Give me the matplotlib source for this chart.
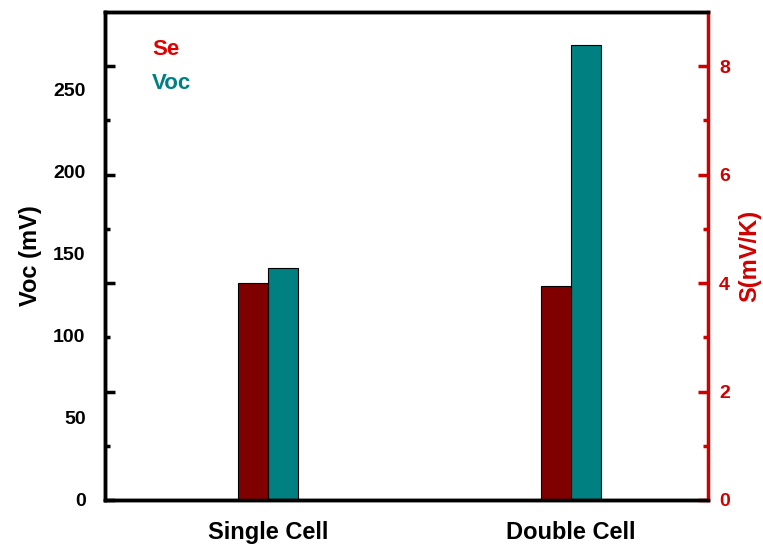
import matplotlib.pyplot as plt
import numpy as np

plt.rcParams['font.family'] = ['Liberation Sans', 'DejaVu Sans']
plt.rcParams['font.weight'] = 'bold'
plt.rcParams['axes.labelweight'] = 'bold'

# Data
cells = ['Single Cell', 'Double Cell']
seebeck = [4.01, 3.95]      # S (mV/K), right axis
voc = [141, 277]            # Voc (mV), left axis
voc_labels = [0, 50, 100, 150, 200, 250]

c_se = '#800000'
c_voc = '#008080'
c_red = '#d00000'

x = np.arange(1, len(cells) + 1)
w = 0.1
voc_max = 297
s_max = 9

fig = plt.figure(figsize=(7.63, 5.48), dpi=100)
ax = fig.add_axes([0.1376, 0.0876, 0.7903, 0.8905])
ax2 = ax.twinx()

b_voc = ax.bar(x, voc, w, align='edge', color=c_voc, edgecolor='black', lw=0.8)
b_se = ax2.bar(x - w, seebeck, w, align='edge', color=c_se, edgecolor='black', lw=0.8)

ax.set_xlim(0.462, 2.452)
ax.set_ylim(0, voc_max)
ax2.set_ylim(0, s_max)

# x axis
ax.set_xticks(x)
ax.set_xticklabels(cells, fontsize=17)
ax.tick_params(axis='x', length=0, pad=15)

# left axis: tick marks follow the S scale, labels sit on their own axis
scale = voc_max / s_max
ax.set_yticks(np.arange(0, 9, 2) * scale)
ax.set_yticks(np.arange(1, 9, 2) * scale, minor=True)
ax.set_yticklabels([])
ax.tick_params(axis='y', which='major', direction='in', length=7, width=2.5, color='black')
ax.tick_params(axis='y', which='minor', direction='in', length=3.5, width=2.5, color='black')

sec = ax.secondary_yaxis('left')
sec.set_yticks(voc_labels)
sec.tick_params(length=0, pad=14, labelsize=14)
sec.spines['left'].set_visible(False)
sec.set_ylabel('Voc (mV)', fontsize=17, labelpad=8)

# right axis
ax2.set_yticks(np.arange(0, 9, 2))
ax2.set_yticks(np.arange(1, 9, 2), minor=True)
ax2.tick_params(axis='y', which='major', direction='in', length=7, width=2.5,
                color=c_red, labelcolor=c_red, labelsize=14, pad=8)
ax2.tick_params(axis='y', which='minor', direction='in', length=3.5, width=2.5, color=c_red)
ax2.set_ylabel('S(mV/K)', fontsize=17, color=c_red, labelpad=6)

for a in (ax, ax2):
    for side in ('left', 'top', 'bottom'):
        a.spines[side].set_linewidth(2.5)
        a.spines[side].set_color('black')
ax.spines['right'].set_visible(False)
ax2.spines['right'].set_linewidth(2.5)
ax2.spines['right'].set_color(c_red)

leg = ax2.legend([b_se, b_voc], ['Se', 'Voc'], labelcolor=['#e00000', c_voc],
                 handlelength=0, handletextpad=0, frameon=False, fontsize=16,
                 loc='upper left', bbox_to_anchor=(0.078, 0.945),
                 borderpad=0, borderaxespad=0, labelspacing=0.6)
for h in leg.legend_handles:
    h.set_visible(False)

fig.savefig('out.png', dpi=100)
